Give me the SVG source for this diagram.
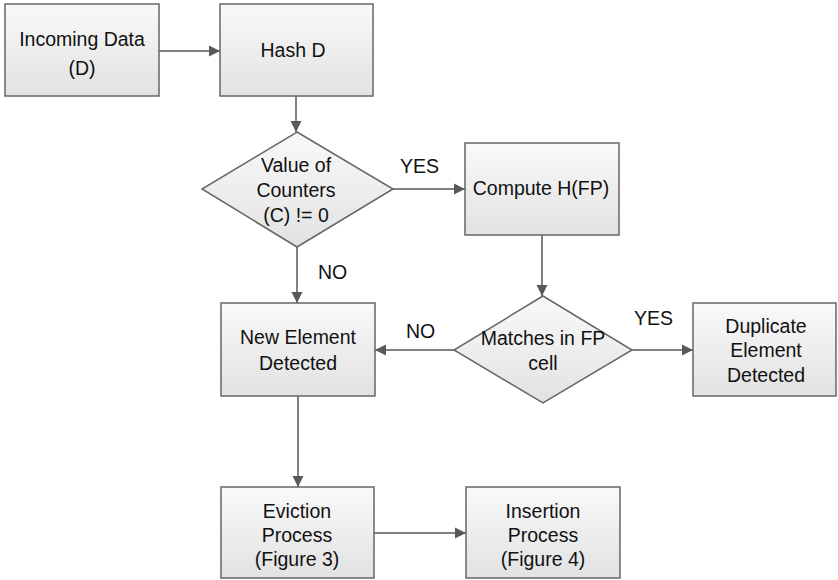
<svg xmlns="http://www.w3.org/2000/svg" width="838" height="580" viewBox="0 0 838 580">
<defs>
<linearGradient id="g" x1="0" y1="0" x2="0" y2="1">
<stop offset="0" stop-color="#f9f9f9"/>
<stop offset="1" stop-color="#e2e2e2"/>
</linearGradient>
<marker id="ah" markerWidth="12" markerHeight="12" viewBox="0 0 12 12" refX="11" refY="6" orient="auto" markerUnits="userSpaceOnUse">
<path d="M0,0.5 L11,6 L0,11.5 Z" fill="#595959"/>
</marker>
<style>
.n{fill:url(#g);stroke:#666;stroke-width:1.5}
.c{fill:none;stroke:#595959;stroke-width:1.5;marker-end:url(#ah)}
text{font-family:"Liberation Sans",Arial,sans-serif;font-size:19.5px;fill:#111;text-anchor:middle}
.l{text-anchor:start}
</style>
</defs>
<g id="connectors">
<path class="c" d="M159,51 H220"/>
<path class="c" d="M296,96 V132"/>
<path class="c" d="M393,189 H465"/>
<path class="c" d="M297,247 V303"/>
<path class="c" d="M542,235 V296"/>
<path class="c" d="M454,350 H375"/>
<path class="c" d="M632,350 H693"/>
<path class="c" d="M298,396 V487"/>
<path class="c" d="M374,533 H466"/>
</g>
<g id="labels">
<text class="l" x="400" y="173">YES</text>
<text class="l" x="318" y="279">NO</text>
<text class="l" x="406" y="338">NO</text>
<text class="l" x="634" y="325">YES</text>
</g>
<g id="incoming">
<rect class="n" x="5" y="4" width="154" height="92"/>
<text x="82" y="46">Incoming Data</text>
<text x="82" y="75">(D)</text>
</g>
<g id="hash">
<rect class="n" x="220" y="4" width="153" height="92"/>
<text x="293" y="57">Hash D</text>
</g>
<g id="counters">
<polygon class="n" points="297,132 393,189 297,247 202,189"/>
<text x="296" y="172">Value of</text>
<text x="296" y="197">Counters</text>
<text x="296" y="222">(C) != 0</text>
</g>
<g id="compute">
<rect class="n" x="465" y="143" width="154" height="92"/>
<text x="541" y="195">Compute H(FP)</text>
</g>
<g id="newelement">
<rect class="n" x="221" y="303" width="154" height="93"/>
<text x="298" y="344">New Element</text>
<text x="298" y="370">Detected</text>
</g>
<g id="matches">
<polygon class="n" points="543,296 632,350 543,403 454,350"/>
<text x="543" y="345">Matches in FP</text>
<text x="543" y="370">cell</text>
</g>
<g id="duplicate">
<rect class="n" x="693" y="303" width="143" height="93"/>
<text x="766" y="333">Duplicate</text>
<text x="766" y="357">Element</text>
<text x="766" y="382">Detected</text>
</g>
<g id="eviction">
<rect class="n" x="221" y="487" width="153" height="91"/>
<text x="297" y="518">Eviction</text>
<text x="297" y="542">Process</text>
<text x="297" y="566">(Figure 3)</text>
</g>
<g id="insertion">
<rect class="n" x="466" y="487" width="154" height="91"/>
<text x="543" y="518">Insertion</text>
<text x="543" y="542">Process</text>
<text x="543" y="566">(Figure 4)</text>
</g>
</svg>
